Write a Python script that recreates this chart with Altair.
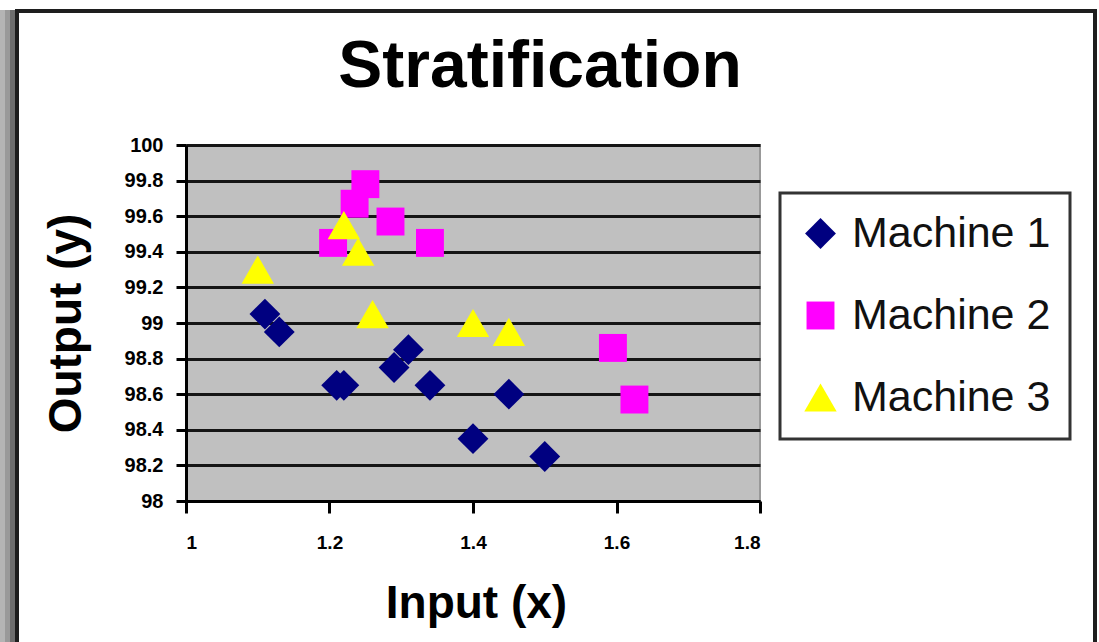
import altair as alt
import pandas as pd

# ---- data ----
machine1_x = [1.11, 1.13, 1.21, 1.22, 1.29, 1.31, 1.34, 1.40, 1.45, 1.50]
machine1_y = [99.05, 98.95, 98.65, 98.65, 98.75, 98.85, 98.65, 98.35, 98.60, 98.25]
machine2_x = [1.205, 1.235, 1.25, 1.285, 1.34, 1.595, 1.625]
machine2_y = [99.45, 99.67, 99.78, 99.57, 99.45, 98.86, 98.57]
machine3_x = [1.10, 1.22, 1.24, 1.26, 1.40, 1.45]
machine3_y = [99.30, 99.55, 99.40, 99.05, 99.00, 98.95]

series_names = ["Machine 1", "Machine 2", "Machine 3"]
series_colors = ["#000080", "#FF00FF", "#FFFF00"]
series_shapes = ["diamond", "square", "triangle-up"]
series_sizes = [950, 780, 1050]

x_ticks = [1, 1.2, 1.4, 1.6, 1.8]
y_ticks = [98, 98.2, 98.4, 98.6, 98.8, 99, 99.2, 99.4, 99.6, 99.8, 100]

rows = []
for name, xs, ys in zip(series_names, [machine1_x, machine2_x, machine3_x],
                        [machine1_y, machine2_y, machine3_y]):
    for xv, yv in zip(xs, ys):
        rows.append({"machine": name, "x": xv, "y": yv})
df = pd.DataFrame(rows)

# ---- layout ----
LEFT, TOP = 186, 145
W, H = 574, 356
FONT = "Liberation Sans"

legend_props = dict(title=None, orient="none", legendX=594, legendY=48,
                    symbolSize=1000, labelFontSize=43, labelFont=FONT,
                    labelColor="#111111", rowPadding=38, labelOffset=10,
                    labelLimit=400,
                    padding=19, fillColor="#FFFFFF", strokeColor="#333333",
                    symbolStrokeWidth=0)

points = alt.Chart(df).mark_point(filled=True, opacity=1, strokeWidth=0).encode(
    x=alt.X("x:Q",
            scale=alt.Scale(domain=[1, 1.8], nice=False, zero=False),
            axis=alt.Axis(values=x_ticks, format=".2~f", grid=False,
                          domainColor="#000000", domainWidth=3,
                          tickColor="#000000", tickWidth=3, tickSize=12,
                          labelFont=FONT, labelFontWeight="bold", labelFontSize=19,
                          labelColor="#000000", labelPadding=20,
                          title="Input (x)", titleFont=FONT, titleFontSize=46,
                          titleFontWeight="bold", titleColor="#000000",
                          titleX=290, titleY=116, titleAlign="center",
                          titleBaseline="alphabetic")),
    y=alt.Y("y:Q",
            scale=alt.Scale(domain=[98, 100], nice=False, zero=False),
            axis=alt.Axis(values=y_ticks, format=".2~f", grid=True,
                          gridColor="#151515", gridWidth=3, gridOpacity=1,
                          domainColor="#000000", domainWidth=3,
                          tickColor="#000000", tickWidth=3, tickSize=10,
                          labelFont=FONT, labelFontWeight="bold", labelFontSize=20,
                          labelColor="#000000", labelPadding=13,
                          title="Output (y)", titleFont=FONT, titleFontSize=46,
                          titleFontWeight="bold", titleColor="#000000",
                          titleAngle=270, titleX=-106, titleY=178,
                          titleAlign="center", titleBaseline="alphabetic")),
    color=alt.Color("machine:N",
                    scale=alt.Scale(domain=series_names, range=series_colors),
                    legend=alt.Legend(**legend_props)),
    shape=alt.Shape("machine:N",
                    scale=alt.Scale(domain=series_names, range=series_shapes),
                    legend=alt.Legend(**legend_props)),
    size=alt.Size("machine:N",
                  scale=alt.Scale(type="ordinal", domain=series_names, range=series_sizes),
                  legend=None),
)

deco = alt.Data(values=[{"k": 0}])


def band(x0, x1, color):
    return alt.Chart(deco).mark_rect(fill=color, strokeWidth=0).encode(
        x=alt.value(x0 - LEFT), x2=alt.value(x1 - LEFT),
        y=alt.value(10 - TOP), y2=alt.value(700 - TOP))


shadow = [band(0, 5, "#b4b4b4"), band(5, 10, "#999999"), band(10, 15, "#6e6e6e")]

frame = alt.Chart(deco).mark_rect(fill="transparent", stroke="#1e1e1e", strokeWidth=4).encode(
    x=alt.value(17 - LEFT), x2=alt.value(1095 - LEFT),
    y=alt.value(11 - TOP), y2=alt.value(720 - TOP))

chart = alt.layer(*shadow, frame, points).properties(
    width=W, height=H,
    autosize=alt.AutoSizeParams(type="none"),
    padding={"left": LEFT, "top": TOP, "right": 1099 - LEFT - W, "bottom": 642 - TOP - H},
    title=alt.Title("Stratification", font=FONT, fontSize=66, fontWeight="bold",
                    color="#000000", anchor="middle", frame="group", dx=67,
                    baseline="alphabetic", offset=-144),
).configure(background="#FFFFFF").configure_view(
    fill="#C0C0C0", stroke="#999999", strokeWidth=2
).configure_legend(strokeWidth=3)

chart.save("out.html", embed_options={"renderer": "svg", "actions": False})
